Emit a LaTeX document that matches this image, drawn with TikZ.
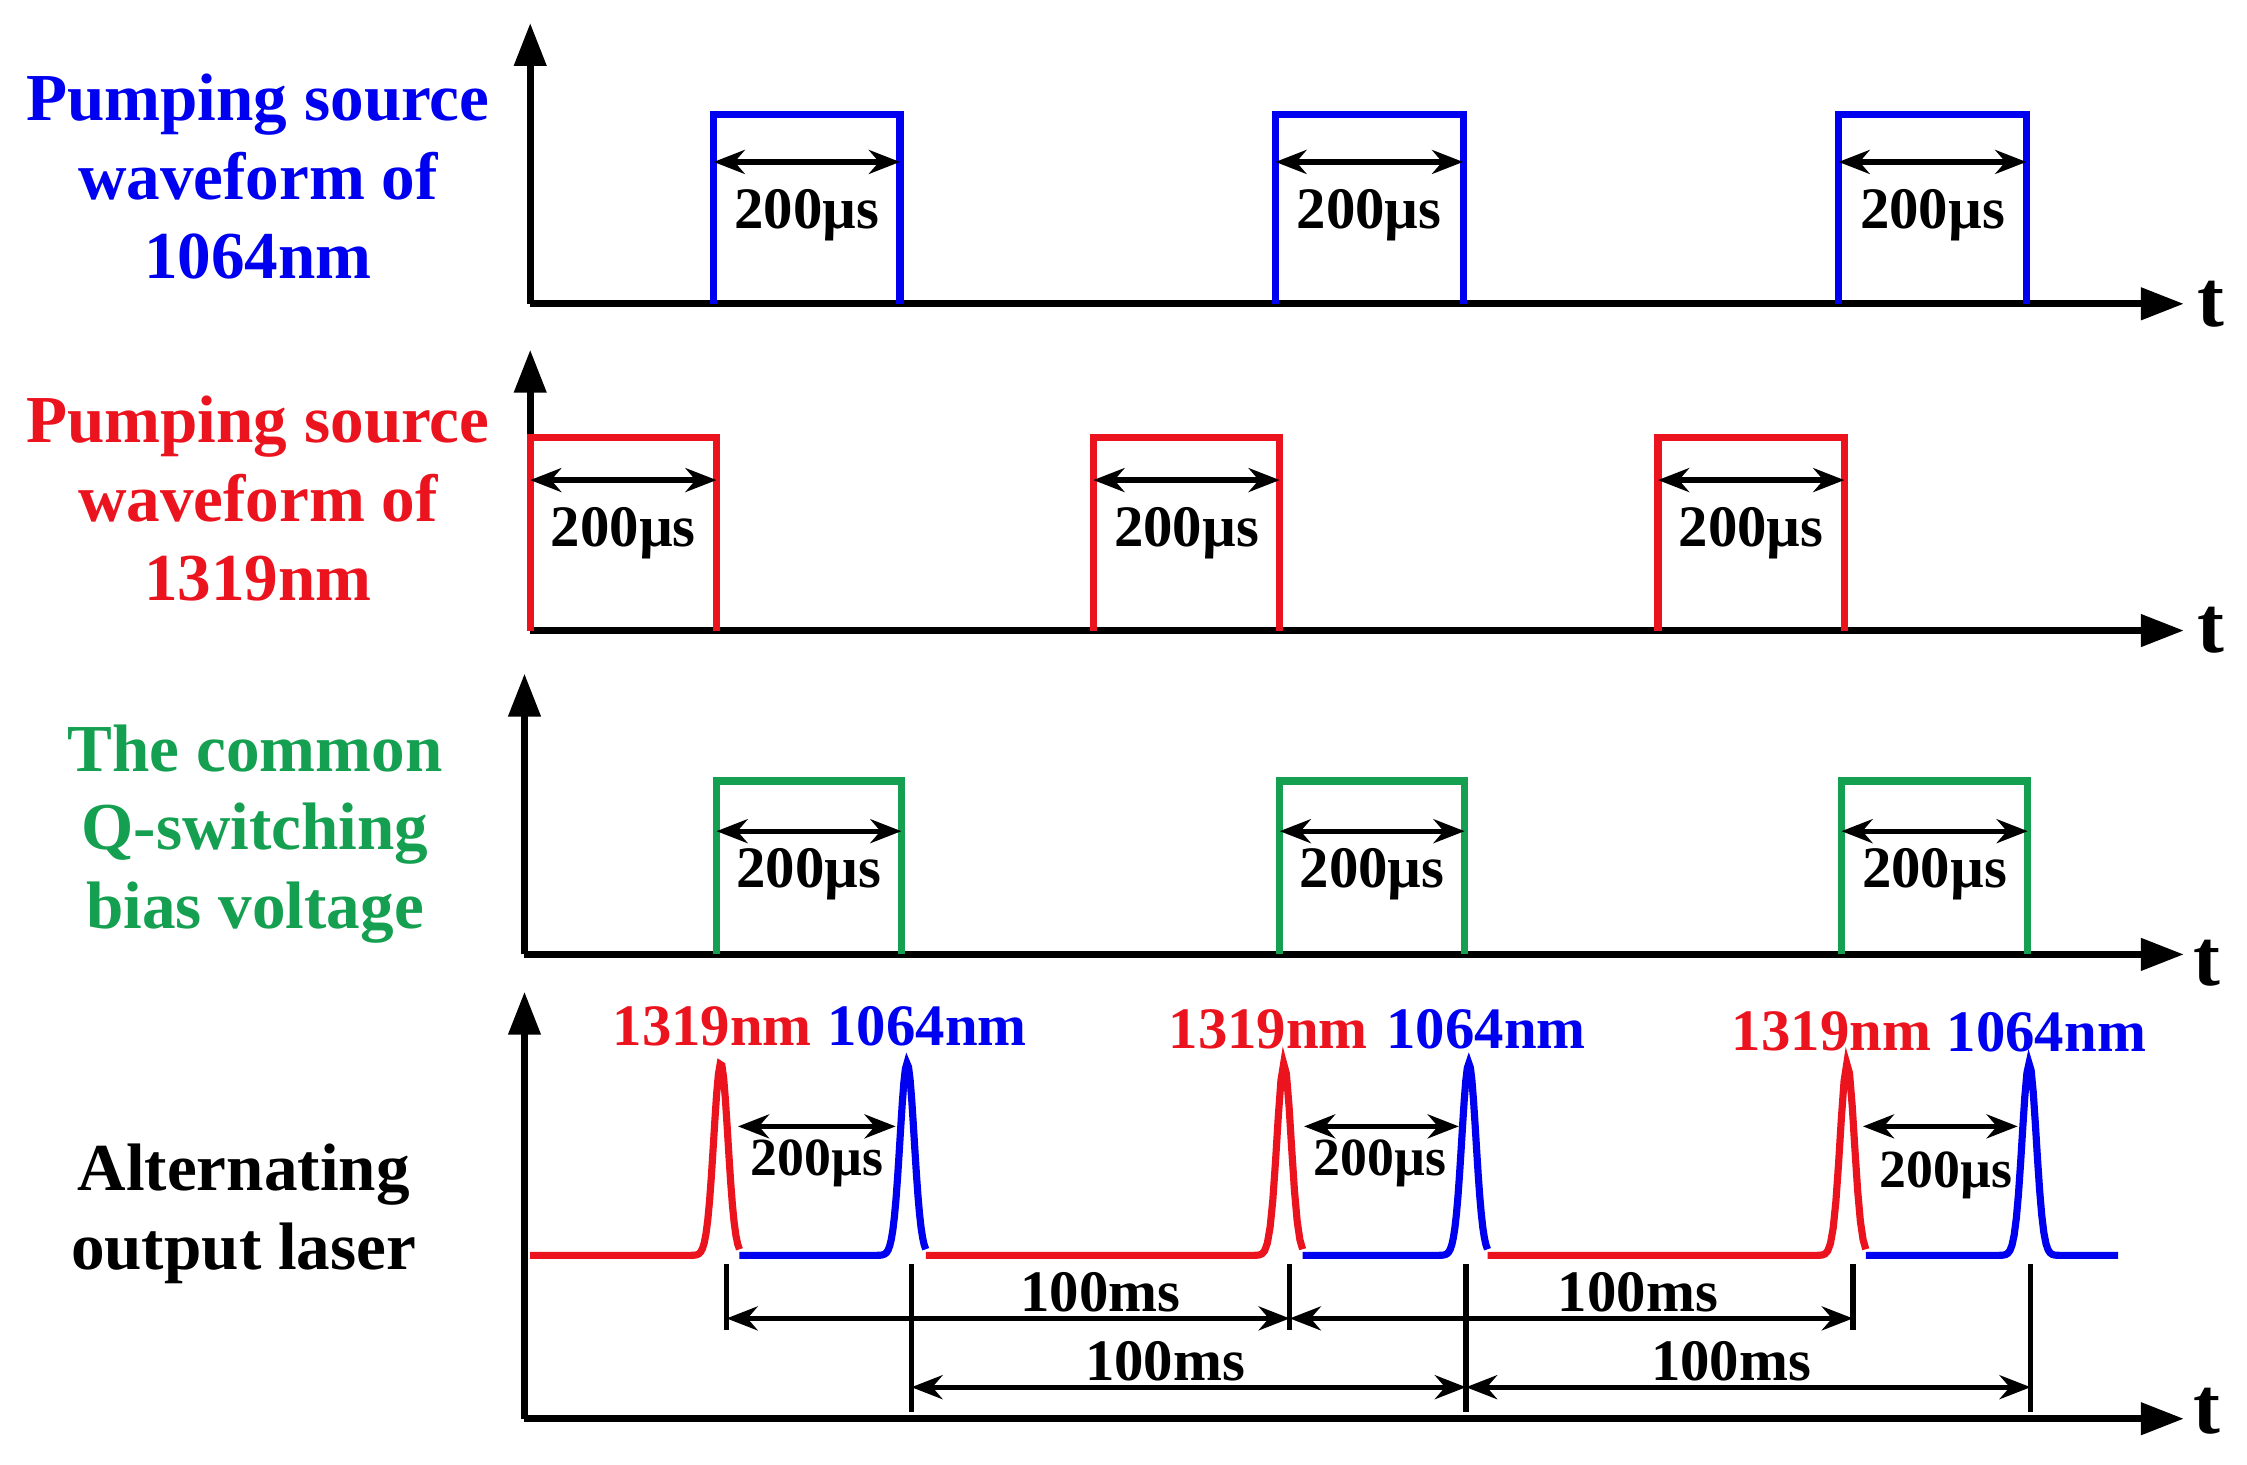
\documentclass[tikz,border=0pt]{standalone}
\usepackage{fontspec}
\setmainfont{Liberation Serif}
\usetikzlibrary{arrows.meta}
\definecolor{cb}{RGB}{0,0,240}
\definecolor{cr}{RGB}{235,20,30}
\definecolor{cg}{RGB}{20,160,80}
\begin{document}
\begin{tikzpicture}[x=0.3mm,y=-0.3mm,
  ax/.style={line width=1.5mm,-{Triangle[length=9mm,width=6.5mm]}},
  sig/.style={line width=1.5mm},
  dim/.style={line width=1.1mm,{Stealth[length=6.5mm,width=5mm]}-{Stealth[length=6.5mm,width=5mm]}},
  tk/.style={line width=1.1mm},
  ttl/.style={font=\fontsize{40}{47}\selectfont\bfseries,align=center},
  lab/.style={font=\fontsize{35}{38}\selectfont\bfseries,inner sep=1pt},
  tl/.style={font=\fontsize{48}{50}\selectfont\bfseries}]
\useasboundingbox (0,0) rectangle (1568,1022);
% panel 1
\node[ttl,text=cb] (l1) at (180,123) {Pumping source\\waveform of\\1064nm};
\draw[ax] (370,212) -- (370,16);
\draw[ax] (370,212) -- (1524,212);
\node[tl] (t1) at (1543,212) {t};
\foreach \a/\b/\n in {498/628/a,890/1021/b,1283/1414/c}{
  \draw[sig,cb] (\a,212) -- (\a,80) -- (\b,80) -- (\b,212);
  \draw[dim] (\a,113) -- (\b,113);
  \node[lab] (p1\n) at ({(\a+\b)/2},150) {200µs};}
% panel 2
\node[ttl,text=cr] (l2) at (180,348) {Pumping source\\waveform of\\1319nm};
\draw[ax] (370,440) -- (370,244);
\draw[ax] (370,440) -- (1524,440);
\node[tl] (t2) at (1543,440) {t};
\foreach \a/\b/\n in {370/500/a,763/893/b,1157/1287/c}{
  \draw[sig,cr] (\a,440) -- (\a,305) -- (\b,305) -- (\b,440);
  \draw[dim] (\a,335) -- (\b,335);
  \node[lab] (p2\n) at ({(\a+\b)/2},372) {200µs};}
% panel 3
\node[ttl,text=cg] (l3) at (178,582) {The common\\Q-switching\\bias voltage};
\draw[ax] (366,666) -- (366,470);
\draw[ax] (366,666) -- (1524,666);
\node[tl] (t3) at (1540,672) {t};
\foreach \a/\b/\n in {500/629/a,893/1022/b,1285/1415/c}{
  \draw[sig,cg] (\a,666) -- (\a,545) -- (\b,545) -- (\b,666);
  \draw[dim] (\a,580) -- (\b,580);
  \node[lab] (p3\n) at ({(\a+\b)/2},610) {200µs};}
% panel 4
\node[ttl,text=black] (l4) at (170,847) {Alternating\\output laser};
\draw[ax] (366,990) -- (366,692);
\draw[ax] (366,990) -- (1524,990);
\node[tl] (t4) at (1540,985) {t};
\draw[sig,cr,domain=370:516,samples=120] plot (\x,{876-134*exp(-((\x-503)/7)^2)});
\draw[sig,cb,domain=516:646,samples=120] plot (\x,{876-134*exp(-((\x-633)/7)^2)});
\draw[sig,cr,domain=646:909,samples=140] plot (\x,{876-134*exp(-((\x-896)/7)^2)});
\draw[sig,cb,domain=909:1038,samples=120] plot (\x,{876-134*exp(-((\x-1025)/7)^2)});
\draw[sig,cr,domain=1038:1302,samples=140] plot (\x,{876-134*exp(-((\x-1289)/7)^2)});
\draw[sig,cb,domain=1302:1478,samples=120] plot (\x,{876-134*exp(-((\x-1416)/7)^2)});
\foreach \r/\bl/\y/\n in {497/647/716/a,885/1037/718/b,1278/1428/720/c}{
  \node[lab,text=cr] (r\n) at (\r,\y) {1319nm};
  \node[lab,text=cb] (b\n) at (\bl,\y) {1064nm};}
\draw[dim] (515,786) -- (625,786);
\draw[dim] (910,786) -- (1018,786);
\draw[dim] (1300,786) -- (1408,786);
\node[lab,font=\fontsize{32}{34}\selectfont\bfseries] (q1) at (570,812) {200µs};
\node[lab,font=\fontsize{32}{34}\selectfont\bfseries] (q2) at (963,812) {200µs};
\node[lab,font=\fontsize{32}{34}\selectfont\bfseries] (q3) at (1358,820) {200µs};
\foreach \x in {507,900,1293} \draw[tk] (\x,882) -- (\x,928);
\foreach \x in {636,1023,1417} \draw[tk] (\x,882) -- (\x,985);
\draw[dim] (507,920) -- (900,920);
\draw[dim] (900,920) -- (1293,920);
\draw[dim] (636,968) -- (1023,968);
\draw[dim] (1023,968) -- (1417,968);
\node[lab] (m1) at (768,902) {100ms};
\node[lab] (m2) at (1143,902) {100ms};
\node[lab] (m3) at (813,950) {100ms};
\node[lab] (m4) at (1208,950) {100ms};
\end{tikzpicture}
\end{document}
